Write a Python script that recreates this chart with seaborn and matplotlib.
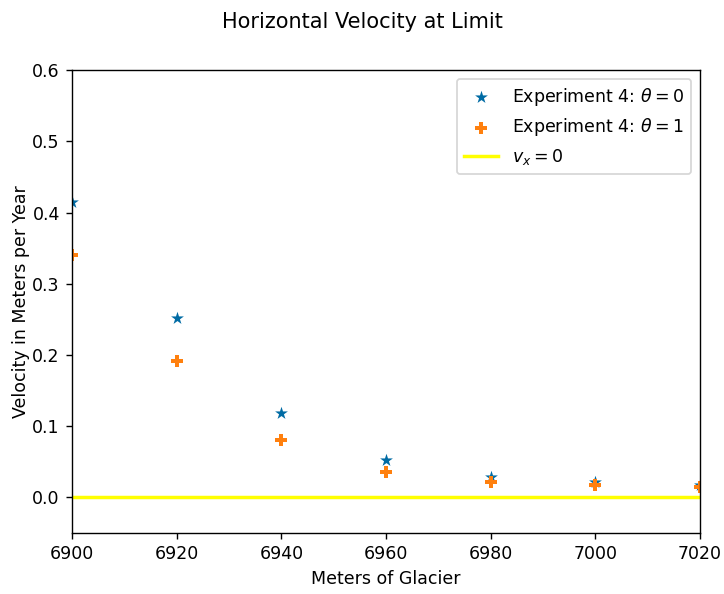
import matplotlib
matplotlib.use("Agg")
import matplotlib.pyplot as plt
import seaborn as sns
import pandas as pd

# Positions along the glacier (m) and horizontal velocities (m/yr)
positions = [6900, 6920, 6940, 6960, 6980, 7000, 7020]
vel_theta0 = [0.415, 0.252, 0.119, 0.052, 0.028, 0.021, 0.017]
vel_theta1 = [0.341, 0.191, 0.080, 0.035, 0.022, 0.018, 0.015]

df0 = pd.DataFrame({"x": positions, "v": vel_theta0})
df1 = pd.DataFrame({"x": positions, "v": vel_theta1})

DPI = 125
fig = plt.figure(figsize=(724 / DPI, 594 / DPI), dpi=DPI)
ax = fig.add_axes([0.0994, 0.1027, 0.8675, 0.7793])

sns.scatterplot(data=df0, x="x", y="v", marker="*", s=60, color="#006BA4",
                linewidth=0, label=r"Experiment 4: $\theta = 0$", ax=ax)
sns.scatterplot(data=df1, x="x", y="v", marker="P", s=46, color="#FF800E",
                linewidth=0, label=r"Experiment 4: $\theta = 1$", ax=ax)
ax.axhline(0, color="yellow", linewidth=2, label=r"$v_x = 0$")

ax.set_xlim(6900, 7020)
ax.set_ylim(-0.05, 0.6)
ax.set_xlabel("Meters of Glacier")
ax.set_ylabel("Velocity in Meters per Year", labelpad=1.5)
fig.suptitle("Horizontal Velocity at Limit", y=0.98)
ax.legend(loc="upper right")

fig.savefig("out.png", dpi=DPI)
